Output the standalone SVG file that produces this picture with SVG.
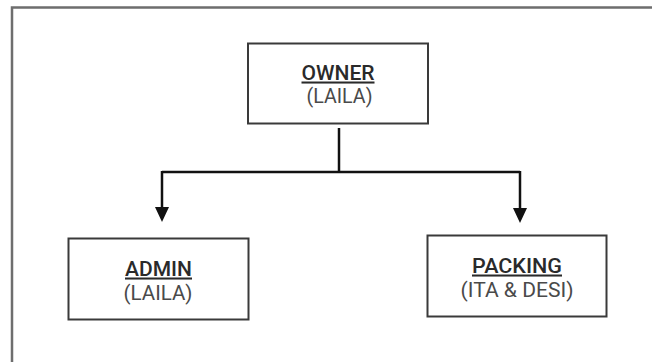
<svg xmlns="http://www.w3.org/2000/svg" width="652" height="362" viewBox="0 0 652 362">
  <defs>
    <style>
      .box { fill: #ffffff; stroke: #3a3a3a; stroke-width: 2; }
      .title { font-family: Roboto, "Liberation Sans", sans-serif; font-size: 20.5px; font-weight: 500; fill: #2a2a2a; text-anchor: middle; text-decoration: underline; }
      .sub { font-family: Roboto, "Liberation Sans", sans-serif; font-size: 20.5px; font-weight: 400; fill: #4a4a4a; text-anchor: middle; }
      .conn { fill: none; stroke: #111111; stroke-width: 2.5; }
    </style>
  </defs>
  <rect x="0" y="0" width="652" height="362" fill="#ffffff"/>
  <path d="M12,362 V7.5 H652" fill="none" stroke="#6e6e6e" stroke-width="2.5"/>
  <g id="connectors">
    <path class="conn" d="M339,128 V172"/>
    <path class="conn" d="M162,172 H520"/>
    <path class="conn" d="M162,171 V208"/>
    <path class="conn" d="M520,171 V209"/>
    <path d="M155,207 L169,207 L162,222 Z" fill="#111111"/>
    <path d="M513,208 L527,208 L520,223 Z" fill="#111111"/>
  </g>
  <g id="owner">
    <rect class="box" x="248" y="43.5" width="180" height="80"/>
    <text class="title" x="338" y="79.5" textLength="73" lengthAdjust="spacingAndGlyphs">OWNER</text>
    <text class="sub" x="339.5" y="102.5" textLength="66" lengthAdjust="spacingAndGlyphs">(LAILA)</text>
  </g>
  <g id="admin">
    <rect class="box" x="68.5" y="238.5" width="180" height="81"/>
    <text class="title" x="158.5" y="275.5" textLength="67" lengthAdjust="spacingAndGlyphs">ADMIN</text>
    <text class="sub" x="158" y="299.5" textLength="69" lengthAdjust="spacingAndGlyphs">(LAILA)</text>
  </g>
  <g id="packing">
    <rect class="box" x="427.5" y="235.5" width="179" height="81"/>
    <text class="title" x="517" y="272.5" textLength="90" lengthAdjust="spacingAndGlyphs">PACKING</text>
    <text class="sub" x="517" y="296.5" textLength="113" lengthAdjust="spacingAndGlyphs">(ITA &amp; DESI)</text>
  </g>
</svg>
